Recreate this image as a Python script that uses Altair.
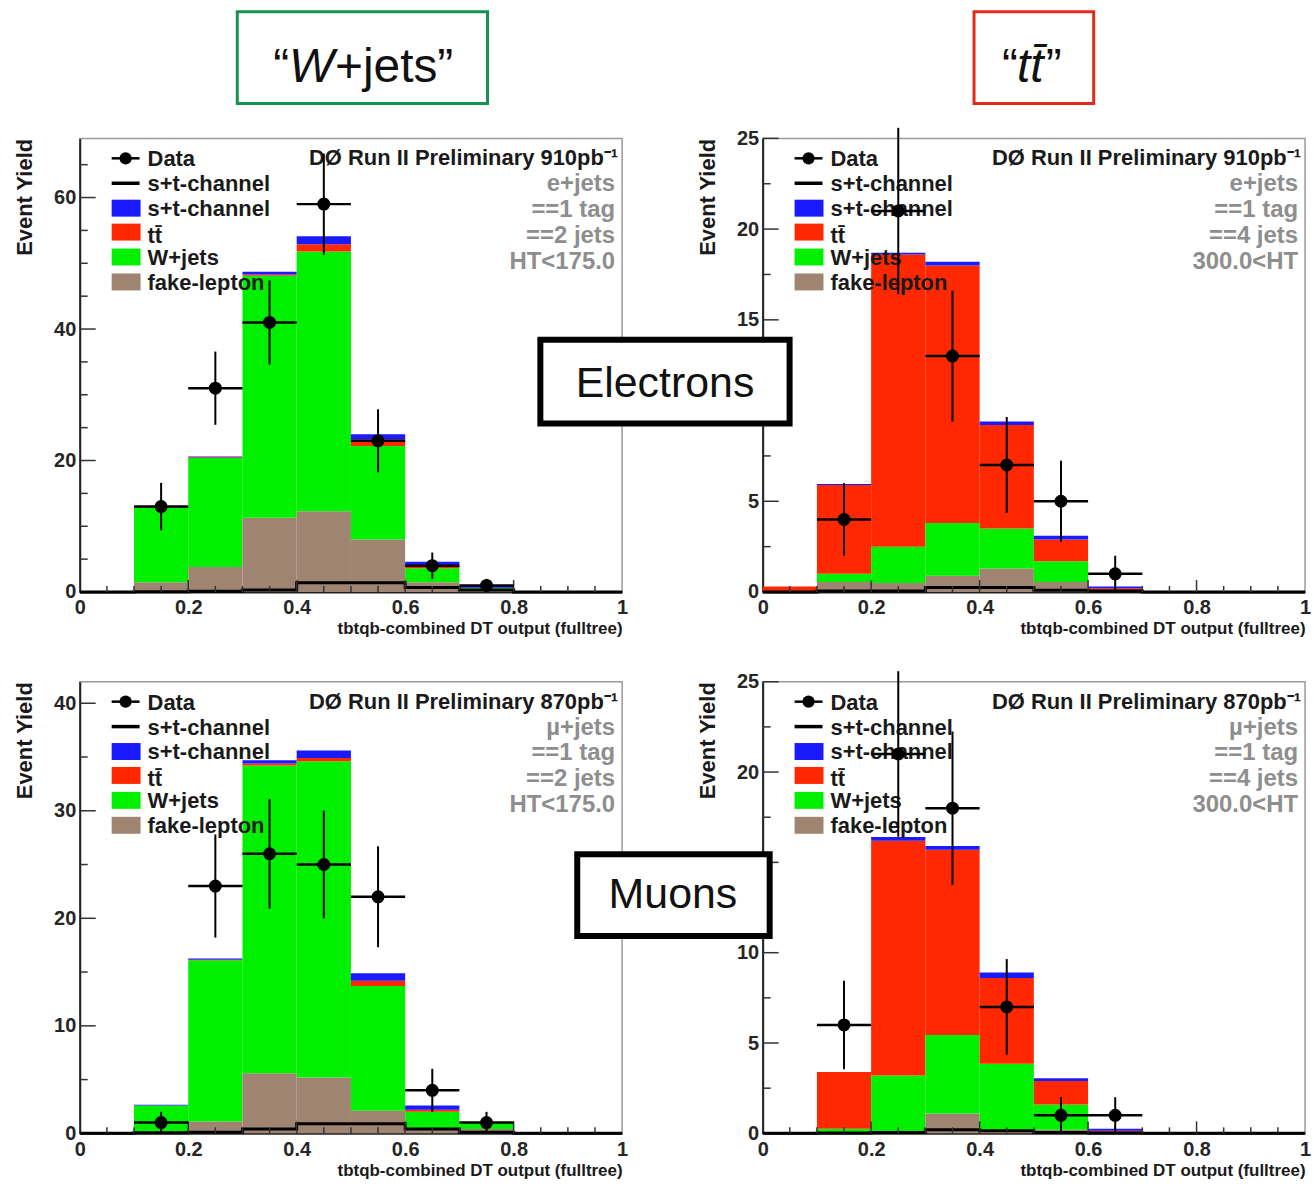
import math
import altair as alt
import pandas as pd

FONT = "Liberation Sans"

# ---- binning of the discriminant (10 bins on [0, 1]) ----
BIN_LO = [0.0, 0.1, 0.2, 0.3, 0.4, 0.5, 0.6, 0.7, 0.8, 0.9]
BIN_W = 0.1
X_LABELS = [0, 0.2, 0.4, 0.6, 0.8, 1]

# ---- stacked background components (bottom to top) ----
COMP_NAMES = ["fake-lepton", "W+jets", "ttbar", "s+t-channel"]
COMP_COLORS = ["#a08472", "#00f000", "#ff2800", "#1a1aff"]

# electrons, ==2 jets, HT<175
tl_fake = [0, 1.5, 3.8, 11.3, 12.3, 8.0, 1.5, 0.4, 0, 0]
tl_wjets = [0, 11.3, 16.6, 36.8, 39.5, 14.2, 2.1, 0.2, 0, 0]
tl_ttbar = [0, 0.1, 0.1, 0.2, 1.1, 1.0, 0.3, 0.05, 0, 0]
tl_stop = [0, 0.2, 0.1, 0.4, 1.2, 0.8, 0.7, 0.3, 0, 0]
tl_stline = [0, 0.05, 0.1, 0.3, 1.4, 1.4, 0.7, 0.3, 0, 0]
tl_data = [0, 13, 31, 41, 59, 23, 4, 1, 0, 0]

# electrons, ==4 jets, 300<HT
tr_fake = [0, 0.55, 0.5, 0.9, 1.3, 0.55, 0.05, 0, 0, 0]
tr_wjets = [0, 0.45, 2.0, 2.9, 2.2, 1.15, 0.05, 0, 0, 0]
tr_ttbar = [0.3, 4.9, 16.1, 14.2, 5.7, 1.2, 0.1, 0, 0, 0]
tr_stop = [0, 0.05, 0.1, 0.2, 0.2, 0.2, 0.1, 0, 0, 0]
tr_stline = [0, 0.05, 0.05, 0.25, 0.25, 0.1, 0.05, 0, 0, 0]
tr_data = [0, 4, 21, 13, 7, 5, 1, 0, 0, 0]

# muons, ==2 jets, HT<175
bl_fake = [0, 0.2, 1.1, 5.6, 5.2, 2.1, 0.3, 0.4, 0, 0]
bl_wjets = [0, 2.4, 15.0, 28.6, 29.4, 11.6, 1.7, 0.6, 0, 0]
bl_ttbar = [0, 0.0, 0.05, 0.2, 0.3, 0.5, 0.2, 0.0, 0, 0]
bl_stop = [0, 0.05, 0.1, 0.3, 0.7, 0.7, 0.4, 0.05, 0, 0]
bl_stline = [0, 0.05, 0.1, 0.4, 0.9, 0.9, 0.4, 0.1, 0, 0]
bl_data = [0, 1, 23, 26, 25, 22, 4, 1, 0, 0]

# muons, ==4 jets, 300<HT
br_fake = [0, 0, 0.1, 1.1, 0.1, 0.2, 0, 0, 0, 0]
br_wjets = [0, 0.25, 3.1, 4.35, 3.75, 1.4, 0.05, 0, 0, 0]
br_ttbar = [0, 3.15, 13.0, 10.25, 4.75, 1.3, 0.1, 0, 0, 0]
br_stop = [0, 0, 0.2, 0.2, 0.3, 0.15, 0.1, 0, 0, 0]
br_stline = [0, 0.02, 0.05, 0.2, 0.15, 0.05, 0.02, 0, 0, 0]
br_data = [0, 6, 21, 18, 7, 1, 1, 0, 0, 0]

LEGEND_LABELS = ["Data", "s+t-channel", "s+t-channel", "tt\u0304", "W+jets", "fake-lepton"]

W = 544
H_TOP = 455
H_BOT = 453


def text(s, x, y, size=22, color="#1a1a1a", align="left", baseline="middle",
         weight="bold", style="normal"):
    return alt.Chart(pd.DataFrame({"t": [s]})).mark_text(
        text=s, font=FONT, fontSize=size, fontWeight=weight, fontStyle=style,
        color=color, align=align, baseline=baseline,
    ).encode(x=alt.value(x), y=alt.value(y))


def box(x1, x2, y1, y2, color, width, fill="white", opacity=1.0):
    return alt.Chart(pd.DataFrame({"b": [0]})).mark_rect(
        fill=fill, fillOpacity=opacity, stroke=color, strokeWidth=width
    ).encode(x=alt.value(x1), x2=alt.value(x2), y=alt.value(y1), y2=alt.value(y2))


def panel(fake, wjets, ttbar, stop, stline, data, H, ymax, ymajor, yminor,
          lumi, cuts, extra=()):
    xscale = alt.Scale(domain=[0, 1], nice=False, zero=False)
    yscale = alt.Scale(domain=[0, ymax], nice=False, zero=True)
    xaxis = alt.Axis(values=X_LABELS, labelExpr="'' + datum.value", ticks=False, grid=False,
                     labelFlush=False, labelPadding=6, labelOverlap=False,
                     title="tbtqb-combined DT output (fulltree)",
                     titleAnchor="end", titlePadding=3, titleFontSize=17)
    ymaj = [v * ymajor for v in range(int(ymax // ymajor) + 1)]
    yaxis = alt.Axis(values=ymaj, labelExpr="'' + datum.value", ticks=False, grid=False,
                     labelPadding=4, labelOverlap=False, labelFlush=False,
                     title="Event Yield", titleAnchor="end", titleAngle=270,
                     titleAlign="right", titleBaseline="top",
                     titleX=-65, titleY=0, titleFontSize=22)

    def X(f):
        return alt.X(f"{f}:Q", scale=xscale, axis=xaxis)

    def Y(f):
        return alt.Y(f"{f}:Q", scale=yscale, axis=yaxis)

    # stacked histogram
    rows = []
    comps = [fake, wjets, ttbar, stop]
    for i, lo in enumerate(BIN_LO):
        base = 0.0
        for name, vals in zip(COMP_NAMES, comps):
            v = vals[i]
            if v > 0:
                rows.append({"x": lo, "x2": lo + BIN_W, "y": base, "y2": base + v, "comp": name})
            base += v
    stack = pd.DataFrame(rows)
    bars = alt.Chart(stack).mark_rect(strokeWidth=0).encode(
        x=X("x"), x2="x2", y=Y("y"), y2="y2",
        color=alt.Color("comp:N", scale=alt.Scale(domain=COMP_NAMES, range=COMP_COLORS), legend=None),
    )

    # unstacked single-top outline
    edges = [round(lo, 1) for lo in BIN_LO] + [1.0]
    line_df = pd.DataFrame({"x": edges, "y": list(stline) + [stline[-1]]})
    stl = alt.Chart(line_df).mark_line(interpolate="step-after", color="black", strokeWidth=3).encode(
        x=X("x"), y=Y("y"))

    # inward ticks
    ymin_vals = [round(k * yminor, 3) for k in range(1, int(ymax / yminor) + 1)
                 if round(k * yminor, 3) < ymax and abs((k * yminor) / ymajor - round((k * yminor) / ymajor)) > 1e-6]
    ymaj_vals = [v for v in ymaj if v > 0]
    ytick_maj = alt.Chart(pd.DataFrame({"y": ymaj_vals})).mark_rule(color="#333", strokeWidth=1.5).encode(
        y=Y("y"), x=alt.value(0), x2=alt.value(16))
    ytick_min = alt.Chart(pd.DataFrame({"y": ymin_vals})).mark_rule(color="#333", strokeWidth=1.5).encode(
        y=Y("y"), x=alt.value(0), x2=alt.value(8))
    xmaj_vals = [0.2, 0.4, 0.6, 0.8]
    xmin_vals = [round(0.05 * k, 2) for k in range(1, 20) if k % 4 != 0]
    xtick_maj = alt.Chart(pd.DataFrame({"x": xmaj_vals})).mark_rule(color="#333", strokeWidth=1.5).encode(
        x=X("x"), y=alt.value(H), y2=alt.value(H - 12))
    xtick_min = alt.Chart(pd.DataFrame({"x": xmin_vals})).mark_rule(color="#333", strokeWidth=1.5).encode(
        x=X("x"), y=alt.value(H), y2=alt.value(H - 6))

    # data with sqrt(N) errors
    d = pd.DataFrame([
        {"x": lo + BIN_W / 2, "xl": lo, "xr": lo + BIN_W, "n": n,
         "lo": n - math.sqrt(n), "hi": n + math.sqrt(n)}
        for lo, n in zip(BIN_LO, data) if n > 0
    ])
    ev = alt.Chart(d).mark_rule(color="black", strokeWidth=2).encode(x=X("x"), y=Y("lo"), y2="hi")
    eh = alt.Chart(d).mark_rule(color="black", strokeWidth=2.5).encode(x=X("xl"), x2="xr", y=Y("n"))
    pts = alt.Chart(d).mark_point(filled=True, shape="circle", size=170, color="black", opacity=1).encode(
        x=X("x"), y=Y("n"))

    # legend (top left)
    rows_y = [20, 45, 70, 94, 119, 144]
    leg = [
        box(32, 61, rows_y[2] - 8.5, rows_y[2] + 8.5, COMP_COLORS[3], 0, fill=COMP_COLORS[3]),
        box(32, 61, rows_y[3] - 8.5, rows_y[3] + 8.5, COMP_COLORS[2], 0, fill=COMP_COLORS[2]),
        box(32, 61, rows_y[4] - 8.5, rows_y[4] + 8.5, COMP_COLORS[1], 0, fill=COMP_COLORS[1]),
        box(32, 61, rows_y[5] - 8.5, rows_y[5] + 8.5, COMP_COLORS[0], 0, fill=COMP_COLORS[0]),
        alt.Chart(pd.DataFrame({"b": [0]})).mark_rule(color="black", strokeWidth=2.5).encode(
            x=alt.value(32), x2=alt.value(60), y=alt.value(rows_y[0])),
        alt.Chart(pd.DataFrame({"b": [0]})).mark_point(filled=True, shape="circle", size=150,
                                                        color="black", opacity=1).encode(
            x=alt.value(46), y=alt.value(rows_y[0])),
        alt.Chart(pd.DataFrame({"b": [0]})).mark_rule(color="black", strokeWidth=3.5).encode(
            x=alt.value(32), x2=alt.value(60), y=alt.value(rows_y[1])),
    ]
    for i, lab in enumerate(LEGEND_LABELS):
        dy = 4 if i == 3 else 1
        leg.append(text(lab, 68, rows_y[i] + dy))

    # run/luminosity header and selection cuts
    info = [text(f"D\u00d8 Run II Preliminary {lumi}pb\u207b\u00b9", 540, 20, size=22, align="right")]
    for k, c in enumerate(cuts):
        info.append(text(c, 537, 46 + 26 * k, size=24, color="#8e8e8e", align="right"))

    layers = [bars, stl, ytick_maj, ytick_min, xtick_maj, xtick_min] + leg + info + [ev, eh, pts] + list(extra)
    return alt.layer(*layers).properties(width=W, height=H)


# header boxes above the two columns
wjets_header = [
    box(158, 409, -127, -35, "#17924f", 3),
    text("\u201c", 194, -57, size=48, weight="normal", baseline="alphabetic", color="#111"),
    text("W", 210, -57, size=48, weight="normal", style="italic", baseline="alphabetic", color="#111"),
    text("+jets\u201d", 256, -57, size=48, weight="normal", baseline="alphabetic", color="#111"),
]
ttbar_header = [
    box(212, 332, -127, -35, "#e32b1a", 3),
    text("\u201c", 240, -57, size=48, weight="normal", baseline="alphabetic", color="#111"),
    text("tt\u0304", 255, -57, size=48, weight="normal", style="italic", baseline="alphabetic", color="#111"),
    text("\u201d", 284, -57, size=48, weight="normal", baseline="alphabetic", color="#111"),
]
electrons_box = [
    box(-223, 27, 202, 286, "black", 6),
    text("Electrons", -98, 246, size=43, weight="normal", color="#111", align="center"),
]
muons_box = [
    box(-186, 7, 173, 255, "black", 6),
    text("Muons", -90, 214, size=43, weight="normal", color="#111", align="center"),
]

tl = panel(tl_fake, tl_wjets, tl_ttbar, tl_stop, tl_stline, tl_data, H_TOP, 69, 20, 5,
           910, ["e+jets", "==1 tag", "==2 jets", "HT<175.0"], wjets_header)
tr = panel(tr_fake, tr_wjets, tr_ttbar, tr_stop, tr_stline, tr_data, H_TOP, 25, 5, 2.5,
           910, ["e+jets", "==1 tag", "==4 jets", "300.0<HT"], ttbar_header + electrons_box)
bl = panel(bl_fake, bl_wjets, bl_ttbar, bl_stop, bl_stline, bl_data, H_BOT, 42, 10, 5,
           870, ["\u00b5+jets", "==1 tag", "==2 jets", "HT<175.0"])
br = panel(br_fake, br_wjets, br_ttbar, br_stop, br_stline, br_data, H_BOT, 25, 5, 2.5,
           870, ["\u00b5+jets", "==1 tag", "==4 jets", "300.0<HT"], muons_box)

chart = alt.concat(
    tl, tr, bl, br, columns=2, bounds="flush", spacing={"row": 90, "column": 141}
).properties(
    padding={"left": 13, "top": 7, "right": 2, "bottom": 2},
    background="white",
).configure_view(
    stroke="#9a9a9a", strokeWidth=1.5
).configure_axis(
    labelFont=FONT, labelFontSize=20, labelFontWeight="bold", labelColor="#262626",
    titleFont=FONT, titleFontWeight="bold", titleColor="#1a1a1a",
    domainColor="#222", domainWidth=2,
)

chart.save("out.html", embed_options={"renderer": "svg", "actions": False})
